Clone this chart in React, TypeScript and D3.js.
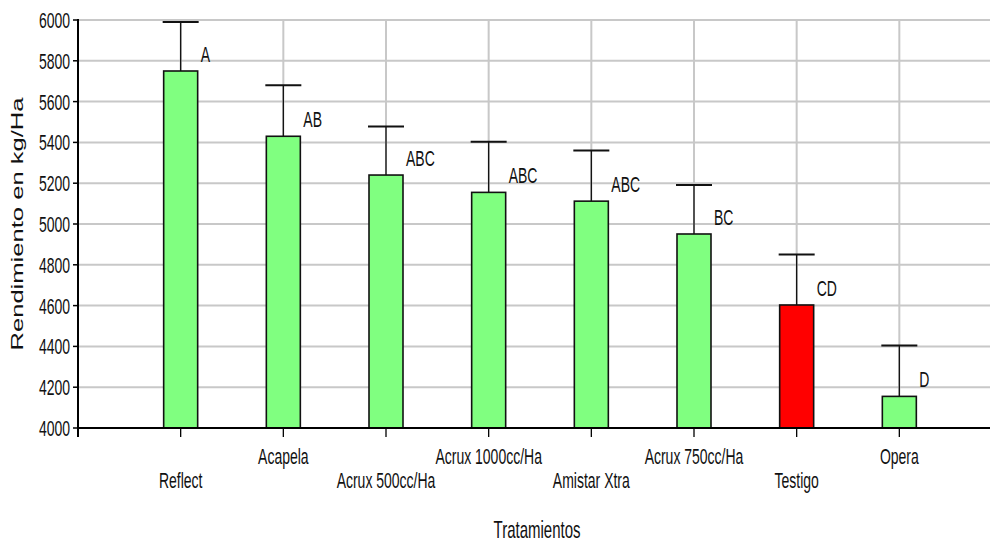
import React from "react";
import * as d3 from "d3";

const categories = [
  "Reflect",
  "Acapela",
  "Acrux 500cc/Ha",
  "Acrux 1000cc/Ha",
  "Amistar Xtra",
  "Acrux 750cc/Ha",
  "Testigo",
  "Opera",
];
const means = [5750, 5430, 5240, 5155, 5112, 4951, 4603, 4155];
const errorTops = [5990, 5680, 5478, 5403, 5360, 5191, 4850, 4404];
const letters = ["A", "AB", "ABC", "ABC", "ABC", "BC", "CD", "D"];
const barColors = ["#80ff80", "#80ff80", "#80ff80", "#80ff80", "#80ff80", "#80ff80", "#ff0000", "#80ff80"];
const yTicks = [4000, 4200, 4400, 4600, 4800, 5000, 5200, 5400, 5600, 5800, 6000];

const W = 990;
const H = 542;
const left = 78;
const top = 20;
const bottom = 428;
const rightEnd = 1002;
const FONT = "'Liberation Sans', Arial, sans-serif";
const SY = 1.6;

export default function App() {
  const y = d3.scaleLinear().domain([4000, 6000]).range([bottom, top]);
  const x = d3.scalePoint<string>().domain(categories).range([left, rightEnd]).padding(1);
  const bw = 34;

  return (
    <svg
      width={W}
      height={H}
      style={{ position: "fixed", left: 0, top: 0, background: "#fff" }}
      fontFamily={FONT}
    >
      <rect x={0} y={0} width={W} height={H} fill="#fff" />
      {/* horizontal gridlines */}
      {yTicks.map((t) => (
        <line key={"h" + t} x1={left} x2={W} y1={y(t)} y2={y(t)} stroke="#c8c8c8" strokeWidth={2} />
      ))}
      {/* vertical gridlines */}
      {categories.map((c) => (
        <line key={"v" + c} x1={x(c)!} x2={x(c)!} y1={top} y2={bottom} stroke="#c8c8c8" strokeWidth={2} />
      ))}
      {/* bars */}
      {categories.map((c, i) => {
        const cx = x(c)!;
        return (
          <g key={"b" + c}>
            <line x1={cx} x2={cx} y1={y(means[i])} y2={y(errorTops[i])} stroke="#111" strokeWidth={1.3} />
            <line x1={cx - bw / 2 - 1} x2={cx + bw / 2 + 1} y1={y(errorTops[i])} y2={y(errorTops[i])} stroke="#111" strokeWidth={2} />
            <rect
              x={cx - bw / 2}
              y={y(means[i])}
              width={bw}
              height={y(4000) - y(means[i])}
              fill={barColors[i]}
              stroke="#111"
              strokeWidth={1.6}
            />
            <text
              transform={`translate(${cx + 20},${y(means[i]) - 9}) scale(1,${SY})`}
              fontSize={14}
              fill="#111"
            >
              {letters[i]}
            </text>
          </g>
        );
      })}
      {/* y axis */}
      <line x1={left} x2={left} y1={top - 1} y2={bottom + 9} stroke="#000" strokeWidth={2} />
      {yTicks.map((t) => (
        <g key={"yt" + t}>
          <line x1={left - 5} x2={left} y1={y(t)} y2={y(t)} stroke="#000" strokeWidth={1.5} />
          <text
            transform={`translate(${left - 8},${y(t) + 8}) scale(1,${SY})`}
            fontSize={14}
            textAnchor="end"
            fill="#111"
          >
            {t}
          </text>
        </g>
      ))}
      {/* x axis */}
      <line x1={left} x2={W} y1={bottom} y2={bottom} stroke="#000" strokeWidth={2.2} />
      {categories.map((c, i) => (
        <g key={"xt" + c}>
          <line x1={x(c)!} x2={x(c)!} y1={bottom} y2={bottom + 9} stroke="#000" strokeWidth={1.3} />
          <text
            transform={`translate(${x(c)!},${i % 2 === 1 ? 464 : 488}) scale(1,${SY})`}
            fontSize={14}
            textAnchor="middle"
            fill="#111"
          >
            {c}
          </text>
        </g>
      ))}
      {/* axis titles */}
      <text
        transform={`translate(537,538) scale(1,${SY})`}
        fontSize={15}
        textAnchor="middle"
        fill="#111"
      >
        Tratamientos
      </text>
      <text
        transform={`translate(23,${(top + bottom) / 2}) rotate(-90) scale(${SY},1)`}
        fontSize={16}
        textAnchor="middle"
        fill="#111"
      >
        Rendimiento en kg/Ha
      </text>
    </svg>
  );
}
